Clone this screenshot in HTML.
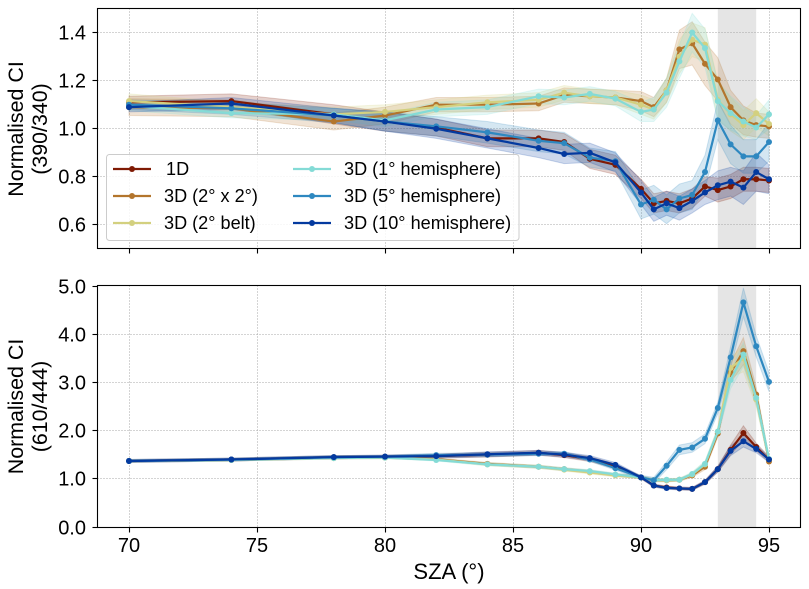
<!DOCTYPE html>
<html lang="en">
<head>
<meta charset="utf-8">
<title>Normalised CI vs SZA</title>
<style>
html,body{margin:0;padding:0;background:#fff;width:809px;height:589px;overflow:hidden}
svg{display:block;font-family:"Liberation Sans",Arial,sans-serif;fill:#000}
</style>
</head>
<body>
<svg id="chart" width="809" height="589" viewBox="0 0 809 589" xmlns="http://www.w3.org/2000/svg"></svg>
<script>
const szaValues = [70,74,78,80,82,84,86,87,88,89,90,90.5,91,91.5,92,92.5,93,93.5,94,94.5,95];
const seriesNames = ['1D','3D (2° x 2°)','3D (2° belt)','3D (1° hemisphere)','3D (5° hemisphere)','3D (10° hemisphere)'];
const seriesColors = ['#7f1a04','#b3752c','#d3d07f','#84dbd6','#2e88c0','#043a9f'];

const topValues1D = [1.11,1.115,1.06,1.03,1.005,.96,.96,.945,.875,.85,.75,.69,.70,.69,.71,.76,.745,.76,.79,.79,.785];
const topValues2x2 = [1.09,1.085,1.03,1.055,1.10,1.10,1.105,1.14,1.135,1.13,1.115,1.09,1.16,1.33,1.355,1.27,1.205,1.09,1.035,1.015,1.01];
const topValuesBelt = [1.115,1.09,1.06,1.07,1.09,1.11,1.12,1.15,1.135,1.13,1.10,1.08,1.16,1.30,1.37,1.35,1.12,1.06,1.015,1.065,1.02];
const topValues1Hem = [1.095,1.065,1.06,1.035,1.08,1.09,1.135,1.13,1.145,1.125,1.07,1.08,1.15,1.28,1.40,1.335,1.115,1.065,1.03,1.005,1.06];
const topValues5Hem = [1.10,1.085,1.055,1.03,1.01,.985,.95,.94,.88,.865,.685,.705,.665,.71,.725,.82,1.035,.935,.885,.885,.945];
const topValues10Hem = [1.09,1.105,1.055,1.03,1.00,.96,.92,.895,.90,.86,.735,.665,.69,.67,.70,.735,.765,.78,.755,.82,.79];

const topErrors1D = [.025,.03,.04,.04,.035,.035,.035,.035,.04,.04,.04,.04,.04,.04,.04,.04,.05,.05,.05,.05,.05];
const topErrors2x2 = [.035,.035,.035,.035,.03,.03,.03,.03,.03,.03,.04,.04,.05,.08,.09,.09,.09,.07,.06,.05,.05];
const topErrorsBelt = [.03,.02,.03,.03,.03,.03,.03,.03,.03,.03,.04,.04,.05,.07,.07,.07,.08,.07,.06,.06,.05];
const topErrors1Hem = [.02,.02,.025,.025,.03,.03,.03,.03,.03,.03,.04,.05,.06,.07,.08,.08,.08,.07,.06,.05,.06];
const topErrors5Hem = [.02,.025,.03,.04,.04,.045,.045,.045,.04,.04,.06,.06,.06,.06,.06,.07,.08,.08,.07,.07,.08];
const topErrors10Hem = [.02,.025,.03,.04,.04,.04,.04,.04,.04,.04,.05,.05,.05,.05,.05,.05,.06,.06,.07,.08,.06];

const bottomValues1D = [1.37,1.40,1.45,1.46,1.47,1.50,1.54,1.49,1.41,1.26,1.03,.86,.82,.80,.79,.93,1.20,1.60,1.95,1.66,1.40];
const bottomValues2x2 = [1.37,1.39,1.43,1.44,1.41,1.31,1.25,1.20,1.15,1.08,1.03,.97,.97,.98,1.07,1.25,1.94,3.20,3.65,2.75,1.36];
const bottomValuesBelt = [1.37,1.39,1.43,1.44,1.40,1.30,1.25,1.19,1.13,1.07,1.03,.97,.97,.98,1.09,1.30,1.98,3.30,3.50,2.65,1.40];
const bottomValues1Hem = [1.37,1.39,1.43,1.44,1.39,1.30,1.25,1.20,1.16,1.09,1.03,.97,.98,.98,1.10,1.31,1.98,3.05,3.58,2.68,1.41];
const bottomValues5Hem = [1.37,1.40,1.45,1.46,1.49,1.50,1.52,1.52,1.40,1.22,1.03,.97,1.27,1.60,1.65,1.83,2.47,3.52,4.66,3.75,3.01];
const bottomValues10Hem = [1.37,1.40,1.45,1.46,1.47,1.51,1.54,1.50,1.43,1.29,1.03,.86,.81,.80,.79,.93,1.20,1.58,1.78,1.62,1.40];

const bottomErrors1D = [.03,.03,.03,.03,.04,.05,.05,.05,.05,.05,.03,.03,.03,.03,.03,.04,.06,.10,.15,.08,.06];
const bottomErrors2x2 = [.02,.02,.02,.02,.02,.03,.03,.03,.03,.03,.03,.03,.03,.03,.04,.06,.08,.20,.28,.15,.07];
const bottomErrorsBelt = [.02,.02,.02,.02,.02,.03,.03,.03,.03,.03,.03,.03,.03,.03,.04,.06,.08,.20,.28,.15,.07];
const bottomErrors1Hem = [.02,.02,.02,.02,.02,.03,.03,.03,.03,.03,.03,.03,.03,.03,.04,.06,.08,.18,.25,.15,.07];
const bottomErrors5Hem = [.03,.03,.03,.03,.04,.04,.04,.04,.04,.04,.04,.06,.08,.10,.10,.10,.12,.22,.30,.22,.20];
const bottomErrors10Hem = [.03,.03,.03,.03,.04,.05,.05,.05,.05,.05,.03,.03,.03,.03,.03,.04,.06,.10,.12,.08,.06];

const topSeries = [topValues1D,topValues2x2,topValuesBelt,topValues1Hem,topValues5Hem,topValues10Hem];
const topErrors = [topErrors1D,topErrors2x2,topErrorsBelt,topErrors1Hem,topErrors5Hem,topErrors10Hem];
const bottomSeries = [bottomValues1D,bottomValues2x2,bottomValuesBelt,bottomValues1Hem,bottomValues5Hem,bottomValues10Hem];
const bottomErrors = [bottomErrors1D,bottomErrors2x2,bottomErrorsBelt,bottomErrors1Hem,bottomErrors5Hem,bottomErrors10Hem];

const xTicks = [70,75,80,85,90,95];
const topYTicks = [0.6,0.8,1.0,1.2,1.4];
const bottomYTicks = [0,1,2,3,4,5];
const shadedRange = [93,94.5];

const NS = 'http://www.w3.org/2000/svg';
const svg = document.getElementById('chart');
const AX_L = 97.5, AX_R = 800.5;
const xScale = v => 129 + (v - 70) * 25.6;
const topY = v => 249 - (v - 0.5) * 240.5;
const bottomY = v => 527 - v * 48.2;

function mk(tag, parent, props) {
  const e = document.createElementNS(NS, tag);
  for (const k in props) e.setAttribute(k, props[k]);
  parent.appendChild(e);
  return e;
}
function pts(xs, ys) { return xs.map((x, i) => x.toFixed(2) + ',' + ys[i].toFixed(2)).join(' '); }

function drawPanel(name, yScale, yTicks, tickFmt, top, bottom, series, errors, showXLabels) {
  const g = mk('g', svg, {});
  
  

  const span = mk('rect', g, {x: xScale(shadedRange[0]), y: top, width: xScale(shadedRange[1]) - xScale(shadedRange[0]), height: bottom - top, fill: '#e5e5e5'});
  
  

  xTicks.forEach(t => {
    const x = Math.round(xScale(t)) + 0.5;
    const gl = mk('line', g, {x1: x, x2: x, y1: top, y2: bottom, stroke: '#a8a8a8', 'stroke-width': 1, 'stroke-dasharray': '1,2'});
    
    
  });
  yTicks.forEach(t => {
    const y = Math.floor(yScale(t)) + 0.5;
    if (y <= top + 1.5 || y >= bottom - 1.5) return;
    const gl = mk('line', g, {x1: AX_L, x2: AX_R, y1: y, y2: y, stroke: '#a8a8a8', 'stroke-width': 1, 'stroke-dasharray': '1,2'});
    
    
  });

  const xs = szaValues.map(xScale);
  series.forEach((vals, s) => {
    const upper = vals.map((v, i) => yScale(v + errors[s][i]));
    const lower = vals.map((v, i) => yScale(v - errors[s][i]));
    const band = mk('polygon', g, {
      points: pts(xs, upper) + ' ' + pts(xs.slice().reverse(), lower.slice().reverse()),
      fill: seriesColors[s], 'fill-opacity': 0.2, stroke: seriesColors[s], 'stroke-opacity': 0.2, 'stroke-width': 1
    });
    
    
  });
  series.forEach((vals, s) => {
    const ys = vals.map(yScale);
    const line = mk('polyline', g, {points: pts(xs, ys), fill: 'none', stroke: seriesColors[s], 'stroke-width': 2.2, 'stroke-linejoin': 'round'});
    
    
    xs.forEach((x, i) => {
      const c = mk('circle', g, {cx: x, cy: ys[i], r: 3, fill: seriesColors[s]});
      
      
    });
  });

  const frame = mk('rect', g, {x: AX_L, y: top, width: AX_R - AX_L, height: bottom - top, fill: 'none', stroke: '#000', 'stroke-width': 1.1});
  
  

  xTicks.forEach(t => {
    const x = Math.round(xScale(t)) + 0.5;
    const tk = mk('line', g, {x1: x, x2: x, y1: bottom, y2: bottom + 5, stroke: '#000', 'stroke-width': 1.1});
    
    
    if (showXLabels) {
      const lb = mk('text', g, {x: xScale(t), y: 552, 'text-anchor': 'middle', 'font-size': 20});
      lb.textContent = String(t);
      
      
    }
  });
  yTicks.forEach(t => {
    const y = Math.max(top, Math.floor(yScale(t)) + 0.5);
    const tk = mk('line', g, {x1: AX_L - 5, x2: AX_L, y1: y, y2: y, stroke: '#000', 'stroke-width': 1.1});
    
    
    const lb = mk('text', g, {x: 86, y: y + 7, 'text-anchor': 'end', 'font-size': 20});
    lb.textContent = tickFmt(t);
    
    
  });
}

drawPanel('top', topY, topYTicks, t => t.toFixed(1), 8.5, 248.5, topSeries, topErrors, false);
drawPanel('bottom', bottomY, bottomYTicks, t => t.toFixed(1), 285.5, 527.5, bottomSeries, bottomErrors, true);

function rotated(txt, x, y, nm) {
  const t = mk('text', svg, {transform: 'translate(' + x + ',' + y + ') rotate(-90)', 'text-anchor': 'middle', 'font-size': 21.4});
  t.textContent = txt;
  
  
}
rotated('Normalised CI', 23, 129, 'top-y-axis-title');
rotated('(390/340)', 47, 129, 'top-y-axis-subtitle');
rotated('Normalised CI', 23, 406.5, 'bottom-y-axis-title');
rotated('(610/444)', 47, 406.5, 'bottom-y-axis-subtitle');

const xTitle = mk('text', svg, {x: 449, y: 579, 'text-anchor': 'middle', 'font-size': 22});
xTitle.textContent = 'SZA (°)';



const legend = mk('g', svg, {});


mk('rect', legend, {x: 106.5, y: 154.5, width: 412.5, height: 86, rx: 3, fill: '#fff', 'fill-opacity': 0.85, stroke: '#ccc', 'stroke-width': 1});
const legendRowY = [169, 196, 223];
const legendColX = [113, 293];
seriesNames.forEach((n, i) => {
  const col = i < 3 ? 0 : 1;
  const y = legendRowY[i % 3];
  const x0 = legendColX[col];
  const entry = mk('g', legend, {});
  
  
  mk('line', entry, {x1: x0, x2: x0 + 38, y1: y, y2: y, stroke: seriesColors[i], 'stroke-width': 2.2});
  mk('circle', entry, {cx: x0 + 19, cy: y, r: 3, fill: seriesColors[i]});
  const t = mk('text', entry, {x: i === 0 ? 166 : x0 + 51, y: y + 6, 'font-size': 18.1});
  t.textContent = n;
});
</script>
</body>
</html>
